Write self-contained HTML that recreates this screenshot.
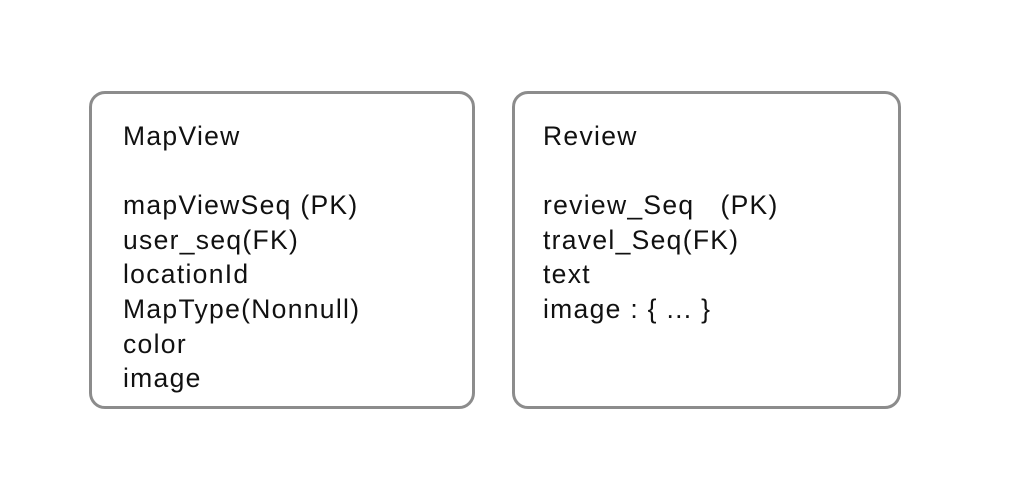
<!DOCTYPE html>
<html><head><meta charset="utf-8"><style>
html,body{margin:0;padding:0;background:#fff;width:1014px;height:487px;overflow:hidden}
.box{position:absolute;top:91px;height:312px;border:3px solid #8c8c8c;border-radius:16px;box-sizing:content-box}
.t{position:absolute;top:119px;font-family:"Liberation Sans",sans-serif;font-size:26.5px;letter-spacing:1.3px;line-height:34.6px;color:#111;white-space:pre}
</style></head><body>
<div class="box" style="left:89px;width:380px"></div>
<div class="box" style="left:512px;width:383px"></div>
<div class="t" style="left:123px">MapView

mapViewSeq (PK)
user_seq(FK)
locationId
MapType(Nonnull)
color
image</div>
<div class="t" style="left:543px">Review

review_Seq   (PK)
travel_Seq(FK)
text
image : { ... }</div>
</body></html>
